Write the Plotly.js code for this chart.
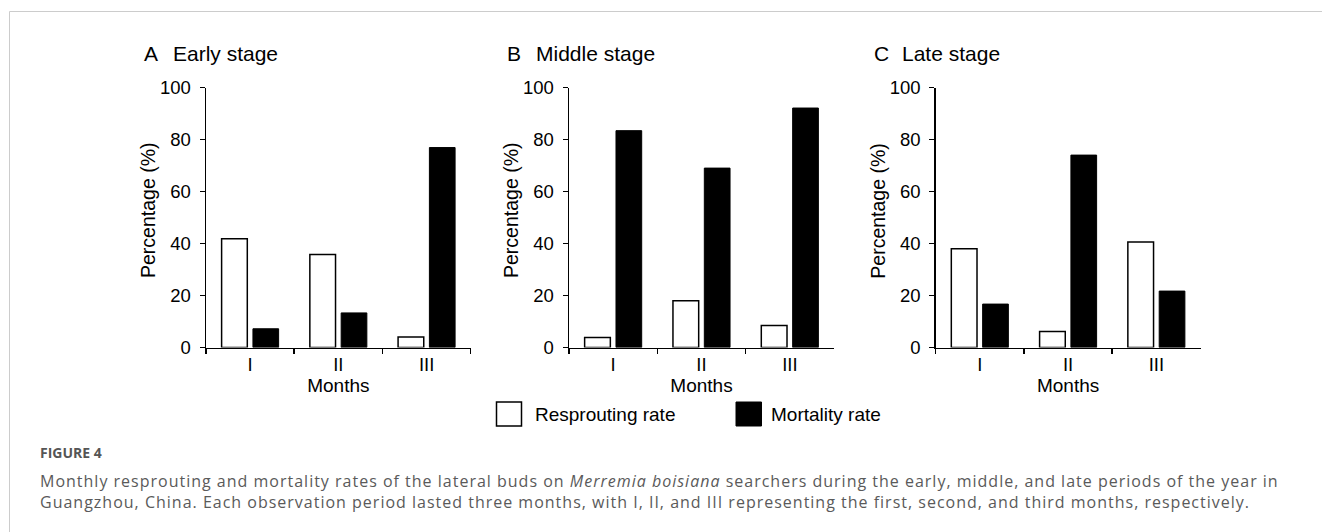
<!DOCTYPE html>
<html>
<head>
<meta charset="utf-8">
<script src="https://cdn.plot.ly/plotly-3.0.1.min.js"></script>
<style>
  html, body { margin: 0; padding: 0; background: #fff; }
  #chart { width: 1322px; height: 532px; }
  g.annotation[data-index="12"] text { letter-spacing: 1px; }
</style>
</head>
<body>
<div id="chart"></div>
<script>
// ---- Data ----
const months = ['I', 'II', 'III'];
const panelLetters = ['A', 'B', 'C'];
const stageNames = ['Early stage', 'Middle stage', 'Late stage'];
const resproutEarly = [41.8, 35.8, 4.0];
const mortalityEarly = [7.2, 13.3, 76.9];
const resproutMiddle = [3.8, 18.0, 8.5];
const mortalityMiddle = [83.4, 69.0, 92.1];
const resproutLate = [38.0, 6.2, 40.6];
const mortalityLate = [16.7, 74.0, 21.7];
const yTickVals = [0, 20, 40, 60, 80, 100];
const yTitle = 'Percentage (%)';
const xTitle = 'Months';
const legendLabels = ['Resprouting rate', 'Mortality rate'];
const captionHead = 'FIGURE 4';
const captionLine1 = 'Monthly resprouting and mortality rates of the lateral buds on <i>Merremia boisiana</i> searchers during the early, middle, and late periods of the year in';
const captionLine2 = 'Guangzhou, China. Each observation period lasted three months, with I, II, and III representing the first, second, and third months, respectively.';

// ---- Layout helpers ----
const W = 1322, H = 532;
const px = x => x / W;
const py = y => 1 - y / H;
const FONT = 'Liberation Sans, Arial, Helvetica, sans-serif';
const CAPFONT = 'Open Sans, Noto Sans, sans-serif';

const resprout = [resproutEarly, resproutMiddle, resproutLate];
const mortality = [mortalityEarly, mortalityMiddle, mortalityLate];
const xDom = [[206, 470.7], [569, 834], [935.7, 1200.5]];
const yDom = [py(347.5), py(87.5)];

const traces = [];
const layout = {
  width: W, height: H,
  margin: {l: 0, r: 0, t: 0, b: 0},
  paper_bgcolor: '#fff', plot_bgcolor: '#fff',
  showlegend: false,
  barmode: 'group',
  bargap: 0.29,
  bargroupgap: 0.18,
  shapes: [],
  annotations: []
};

for (let i = 0; i < 3; i++) {
  const sfx = i === 0 ? '' : String(i + 1);
  traces.push({
    type: 'bar', x: months, y: resprout[i], name: legendLabels[0],
    xaxis: 'x' + sfx, yaxis: 'y' + sfx,
    marker: {color: '#ffffff', line: {color: '#000', width: 1.5}},
    hoverinfo: 'y'
  });
  traces.push({
    type: 'bar', x: months, y: mortality[i], name: legendLabels[1],
    xaxis: 'x' + sfx, yaxis: 'y' + sfx,
    marker: {color: '#000000', line: {color: '#000', width: 1}},
    hoverinfo: 'y'
  });
  layout['xaxis' + sfx] = {
    type: 'category',
    domain: [px(xDom[i][0]), px(xDom[i][1])],
    anchor: 'y' + sfx,
    range: [-0.5, 2.5],
    showline: true, linecolor: '#000', linewidth: 1.5,
    ticks: 'outside', tickson: 'boundaries', ticklen: 5, tickwidth: 1.5, tickcolor: '#000',
    showgrid: false, zeroline: false,
    tickfont: {family: FONT, size: 18.5, color: '#000'},
    title: {text: xTitle, font: {family: FONT, size: 19, color: '#000'}, standoff: 2},
    automargin: false, fixedrange: true
  };
  layout['yaxis' + sfx] = {
    domain: yDom,
    anchor: 'x' + sfx,
    range: [0, 100],
    tickvals: yTickVals,
    showline: true, linecolor: '#000', linewidth: 1.5,
    ticks: 'outside', ticklen: 5, tickwidth: 1.5, tickcolor: '#000',
    ticklabelstandoff: 5,
    showgrid: false, zeroline: false,
    tickfont: {family: FONT, size: 18.5, color: '#000'},
    automargin: false, fixedrange: true
  };
  // panel titles
  layout.annotations.push({
    xref: 'paper', yref: 'paper', x: px(xDom[i][0] - 64), y: py(53.5),
    xanchor: 'left', yanchor: 'middle', showarrow: false,
    text: panelLetters[i], font: {family: FONT, size: 21, color: '#000'}
  });
  layout.annotations.push({
    xref: 'paper', yref: 'paper', x: px(xDom[i][0] - 35.5), y: py(53.5),
    xanchor: 'left', yanchor: 'middle', showarrow: false,
    text: stageNames[i], font: {family: FONT, size: 21, color: '#000'}
  });
  // y axis title
  layout.annotations.push({
    xref: 'paper', yref: 'paper', x: px(xDom[i][0] - 58), y: py(211),
    xanchor: 'center', yanchor: 'middle', showarrow: false, textangle: -90,
    text: yTitle, font: {family: FONT, size: 19.5, color: '#000'}
  });
}

// legend boxes
layout.shapes.push({type: 'rect', xref: 'paper', yref: 'paper',
  x0: px(496.5), x1: px(521.5), y0: py(426), y1: py(402),
  fillcolor: '#fff', line: {color: '#000', width: 1.5}});
layout.shapes.push({type: 'rect', xref: 'paper', yref: 'paper',
  x0: px(736), x1: px(761.5), y0: py(426), y1: py(402),
  fillcolor: '#000', line: {color: '#000', width: 1}});
layout.annotations.push({xref: 'paper', yref: 'paper', x: px(533), y: py(414.5),
  xanchor: 'left', yanchor: 'middle', showarrow: false,
  text: legendLabels[0], font: {family: FONT, size: 19, color: '#000'}});
layout.annotations.push({xref: 'paper', yref: 'paper', x: px(769), y: py(414.5),
  xanchor: 'left', yanchor: 'middle', showarrow: false,
  text: legendLabels[1], font: {family: FONT, size: 19, color: '#000'}});

// frame lines
layout.shapes.push({type: 'line', xref: 'paper', yref: 'paper',
  x0: px(9.5), x1: 1, y0: py(11.5), y1: py(11.5), line: {color: '#cccccc', width: 1}});
layout.shapes.push({type: 'line', xref: 'paper', yref: 'paper',
  x0: px(9.5), x1: px(9.5), y0: py(11.5), y1: 0, line: {color: '#cccccc', width: 1}});

// caption (annotation indices 11, 12)
layout.annotations.push({xref: 'paper', yref: 'paper', x: px(38), y: py(452),
  xanchor: 'left', yanchor: 'middle', align: 'left', showarrow: false,
  text: '<b>' + captionHead + '</b>', font: {family: CAPFONT, size: 14, color: '#555555'}});
layout.annotations.push({xref: 'paper', yref: 'paper', x: px(38), y: py(491),
  xanchor: 'left', yanchor: 'middle', align: 'left', showarrow: false,
  text: captionLine1 + '<br>' + captionLine2, font: {family: CAPFONT, size: 16, color: '#5a5a5a'}});

Plotly.newPlot('chart', traces, layout, {displayModeBar: false, staticPlot: true});
</script>
</body>
</html>
